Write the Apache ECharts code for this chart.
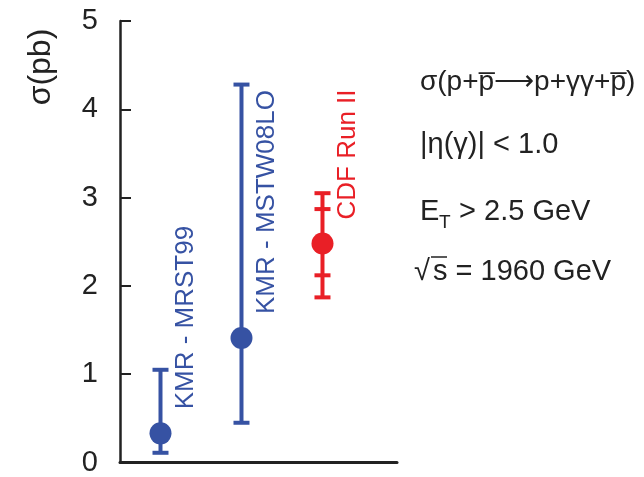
<!DOCTYPE html>
<html>
<head>
<meta charset="utf-8">
<script src="https://cdn.jsdelivr.net/npm/echarts@6/dist/echarts.min.js"></script>
<style>html,body{margin:0;padding:0;background:#fff;}#c{width:644px;height:477px;}</style>
</head>
<body>
<div id="c"></div>
<script>
const categories = ['KMR - MRST99', 'KMR - MSTW08LO', 'CDF Run II'];
const central = [0.33, 1.41, 2.48];
const totalLow = [0.11, 0.45, 1.87];
const totalHigh = [1.05, 4.28, 3.05];
const statLow = [null, null, 2.12];
const statHigh = [null, null, 2.87];
const isMeasurement = [false, false, true];
const yTicks = [0, 1, 2, 3, 4, 5];
const infoLines = ['σ(p+p\u0305\u27F6p+γγ+p\u0305)', '|η(γ)| < 1.0', 'E', 'T', ' > 2.5 GeV', '√', 's = 1960 GeV'];

const BLUE = '#3652a3';
const RED = '#e91f26';
const FONT = '"Liberation Sans", Arial, sans-serif';

function rowsFor(measured) {
  const rows = [];
  categories.forEach((c, i) => {
    if (isMeasurement[i] !== measured) return;
    rows.push([i + 1, central[i], totalLow[i], totalHigh[i],
      statLow[i] == null ? '-' : statLow[i], statHigh[i] == null ? '-' : statHigh[i], i]);
  });
  return rows;
}

function makeRender(color) {
  return function (params, api) {
    const x = api.value(0);
    const c = api.coord([x, api.value(1)]);
    const lo = api.coord([x, api.value(2)]);
    const hi = api.coord([x, api.value(3)]);
    const sl = api.value(4), sh = api.value(5);
    const idx = api.value(6);
    const capHalf = 8;
    const st = { stroke: color, lineWidth: 4 };
    const children = [
      { type: 'line', shape: { x1: lo[0], y1: lo[1], x2: hi[0], y2: hi[1] }, style: st },
      { type: 'line', shape: { x1: lo[0] - capHalf, y1: lo[1], x2: lo[0] + capHalf, y2: lo[1] }, style: st },
      { type: 'line', shape: { x1: hi[0] - capHalf, y1: hi[1], x2: hi[0] + capHalf, y2: hi[1] }, style: st }
    ];
    if (!isNaN(sl) && !isNaN(sh)) {
      const a = api.coord([x, sl]), b = api.coord([x, sh]);
      children.push({ type: 'line', shape: { x1: a[0] - capHalf, y1: a[1], x2: a[0] + capHalf, y2: a[1] }, style: st });
      children.push({ type: 'line', shape: { x1: b[0] - capHalf, y1: b[1], x2: b[0] + capHalf, y2: b[1] }, style: st });
    }
    children.push({
      type: 'text', x: c[0] + 25, y: c[1] - 24, rotation: Math.PI / 2,
      style: { text: categories[idx], fill: color, font: '26px ' + FONT, align: 'left', verticalAlign: 'middle' }
    });
    return { type: 'group', children: children };
  };
}

const chart = echarts.init(document.getElementById('c'));
const txt = (t, x, y, size, extra) => Object.assign({
  type: 'text', x: x, y: y,
  style: { text: t, fill: '#222', font: size + 'px ' + FONT, verticalAlign: 'middle', align: 'left' }
}, extra || {});

chart.setOption({
  animation: false,
  backgroundColor: '#fff',
  grid: { left: 120, right: 247, top: 21, bottom: 14 },
  xAxis: {
    type: 'value', min: 0.5, max: 3.92,
    axisLine: { show: true, onZero: false, lineStyle: { color: '#222', width: 3 } },
    axisTick: { show: false }, axisLabel: { show: false }, splitLine: { show: false }
  },
  yAxis: {
    type: 'value', min: yTicks[0], max: yTicks[yTicks.length - 1], interval: 1,
    axisLine: { show: true, lineStyle: { color: '#222', width: 2.5 } },
    axisTick: { show: true, inside: true, length: 11, lineStyle: { color: '#222', width: 2 } },
    axisLabel: { fontSize: 29, color: '#222', margin: 22, fontFamily: FONT },
    splitLine: { show: false }
  },
  series: [
    { type: 'custom', renderItem: makeRender(BLUE), data: rowsFor(false), clip: false, z: 2,
      encode: { x: 0, y: [1, 2, 3] } },
    { type: 'custom', renderItem: makeRender(RED), data: rowsFor(true), clip: false, z: 2,
      encode: { x: 0, y: [1, 2, 3] } },
    { type: 'scatter', symbolSize: 22, itemStyle: { color: BLUE, opacity: 1 }, z: 3,
      data: categories.map((c, i) => isMeasurement[i] ? null : [i + 1, central[i]]).filter(d => d) },
    { type: 'scatter', symbolSize: 22, itemStyle: { color: RED, opacity: 1 }, z: 3,
      data: categories.map((c, i) => isMeasurement[i] ? [i + 1, central[i]] : null).filter(d => d) }
  ],
  graphic: [
    txt('σ(pb)', 41, 67, 32, { rotation: Math.PI / 2, style: { text: 'σ(pb)', fill: '#222', font: '32px ' + FONT, align: 'center', verticalAlign: 'middle' } }),
    txt(infoLines[0], 420, 82, 28),
    txt(infoLines[1], 420, 145, 29),
    txt(infoLines[2], 420, 212, 29),
    txt(infoLines[3], 439, 223, 19),
    txt(infoLines[4], 451, 212, 29),
    txt(infoLines[5], 414, 272, 29),
    { type: 'line', shape: { x1: 431, y1: 257, x2: 447, y2: 257 }, style: { stroke: '#222', lineWidth: 1.5 } },
    txt(infoLines[6], 433, 272, 29)
  ]
});
</script>
</body>
</html>
